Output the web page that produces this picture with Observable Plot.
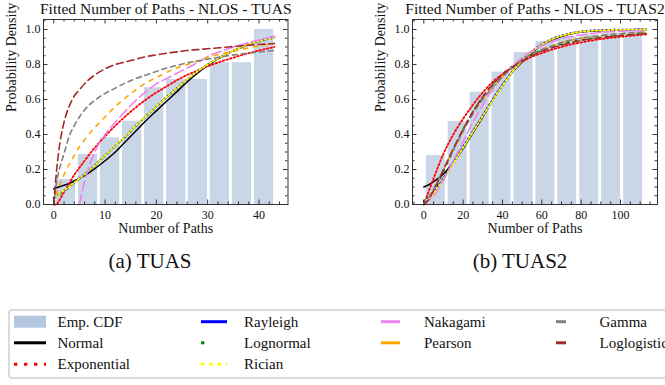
<!DOCTYPE html>
<html>
<head>
<meta charset="utf-8">
<script src="https://cdn.jsdelivr.net/npm/d3@7"></script>
<script src="https://cdn.jsdelivr.net/npm/@observablehq/plot@0.6"></script>
<style>
  html, body { margin: 0; padding: 0; background: #fff; }
  #page { position: relative; width: 665px; height: 385px; overflow: hidden; background: #fff; font-family: "Liberation Serif", "DejaVu Serif", serif; }
  .panel { position: absolute; top: 0; }
  .caption { position: absolute; width: 200px; text-align: center; font-size: 21px; line-height: 21px; top: 251px; color: #111; }
  #legend { position: absolute; left: 0; top: 0; }
</style>
</head>
<body>
<div id="page">
  <div class="panel" id="pa" style="left:0px"></div>
  <div class="panel" id="pb" style="left:365px"></div>
  <div class="caption" style="left:50px">(a) TUAS</div>
  <div class="caption" style="left:420px">(b) TUAS2</div>
  <div id="legend"></div>
</div>
<script>
// ---------------- DATA: panel (a) TUAS ----------------
const tuasTitle = "Fitted Number of Paths - NLOS - TUAS";
const tuasBinStart = [0.5, 4.8, 9.1, 13.4, 17.7, 22.0, 26.2, 30.5, 34.8, 39.1];
const tuasBinEnd   = [4.25, 8.55, 12.85, 17.15, 21.45, 25.75, 29.95, 34.25, 38.55, 42.85];
const tuasEcdf     = [0.143, 0.286, 0.381, 0.476, 0.667, 0.714, 0.714, 0.810, 0.810, 1.0];
const tuasGrid         = [0, 0.5, 1, 2, 3, 4, 5, 6, 8, 10, 12, 14, 16, 18, 20, 22, 24, 26, 28, 30, 34, 38, 43];
const tuasNormal       = [0.09, 0.095, 0.10, 0.11, 0.12, 0.135, 0.15, 0.165, 0.205, 0.25, 0.30, 0.36, 0.42, 0.48, 0.535, 0.59, 0.645, 0.70, 0.75, 0.795, 0.865, 0.915, 0.96];
const tuasExponential  = [0.0, 0.0, 0.02, 0.07, 0.12, 0.17, 0.21, 0.25, 0.325, 0.39, 0.45, 0.505, 0.555, 0.60, 0.64, 0.675, 0.71, 0.74, 0.765, 0.79, 0.83, 0.865, 0.90];
const tuasRayleigh     = [0.04, 0.05, 0.06, 0.08, 0.10, 0.125, 0.15, 0.175, 0.225, 0.28, 0.335, 0.39, 0.45, 0.505, 0.56, 0.615, 0.665, 0.715, 0.76, 0.80, 0.865, 0.915, 0.955];
const tuasLognormal    = [0.035, 0.045, 0.055, 0.075, 0.097, 0.122, 0.147, 0.172, 0.222, 0.277, 0.333, 0.388, 0.448, 0.503, 0.558, 0.613, 0.663, 0.713, 0.758, 0.798, 0.863, 0.913, 0.953];
const tuasRician       = [0.04, 0.05, 0.06, 0.08, 0.10, 0.124, 0.149, 0.174, 0.224, 0.279, 0.335, 0.39, 0.45, 0.505, 0.56, 0.615, 0.665, 0.715, 0.76, 0.80, 0.865, 0.915, 0.955];
const tuasNakagami     = [null, null, null, null, null, null, 0.0, 0.13, 0.30, 0.40, 0.47, 0.535, 0.595, 0.645, 0.69, 0.72, 0.75, 0.78, 0.81, 0.845, 0.89, 0.925, 0.96];
const tuasPearson      = [0.0, 0.06, 0.10, 0.17, 0.23, 0.28, 0.33, 0.37, 0.44, 0.50, 0.56, 0.61, 0.655, 0.695, 0.725, 0.755, 0.78, 0.80, 0.82, 0.84, 0.87, 0.895, 0.92];
const tuasGamma        = [0.0, 0.12, 0.19, 0.29, 0.39, 0.45, 0.50, 0.54, 0.595, 0.635, 0.665, 0.695, 0.72, 0.74, 0.76, 0.78, 0.795, 0.81, 0.82, 0.83, 0.85, 0.865, 0.88];
const tuasLoglogistic  = [0.0, 0.18, 0.31, 0.47, 0.56, 0.62, 0.655, 0.69, 0.74, 0.775, 0.80, 0.815, 0.83, 0.845, 0.855, 0.865, 0.872, 0.88, 0.885, 0.89, 0.90, 0.91, 0.92];
const tuasXTicks = [0, 10, 20, 30, 40];
const tuasXMinor = [-2, 2, 4, 6, 8, 12, 14, 16, 18, 22, 24, 26, 28, 32, 34, 36, 38, 42, 44];

// ---------------- DATA: panel (b) TUAS2 ----------------
const tuas2Title = "Fitted Number of Paths - NLOS - TUAS2";
const tuas2BinStart = [1.3, 12.4, 23.6, 34.7, 45.9, 57.0, 68.1, 79.3, 90.4, 101.6];
const tuas2BinEnd   = [10.9, 22.0, 33.2, 44.3, 55.5, 66.6, 77.7, 88.9, 100.0, 111.2];
const tuas2Ecdf     = [0.28, 0.474, 0.642, 0.756, 0.868, 0.931, 0.958, 0.97, 0.98, 0.99];
const tuas2Grid         = [0, 2, 5, 10, 15, 20, 25, 30, 35, 40, 45, 50, 55, 60, 65, 70, 75, 80, 90, 100, 113];
const tuas2Normal       = [0.10, 0.11, 0.13, 0.175, 0.24, 0.32, 0.41, 0.50, 0.595, 0.68, 0.755, 0.815, 0.868, 0.91, 0.94, 0.96, 0.975, 0.985, 0.993, 0.997, 1.0];
const tuas2Exponential  = [0.0, 0.06, 0.15, 0.29, 0.40, 0.49, 0.57, 0.64, 0.70, 0.745, 0.785, 0.815, 0.845, 0.865, 0.885, 0.90, 0.915, 0.926, 0.945, 0.958, 0.972];
const tuas2Rayleigh     = [0.02, 0.035, 0.07, 0.15, 0.24, 0.33, 0.42, 0.51, 0.60, 0.685, 0.76, 0.825, 0.875, 0.915, 0.945, 0.965, 0.979, 0.988, 0.996, 0.999, 1.0];
const tuas2Lognormal    = [0.0, 0.02, 0.07, 0.19, 0.31, 0.43, 0.53, 0.615, 0.69, 0.745, 0.79, 0.825, 0.855, 0.88, 0.90, 0.917, 0.93, 0.94, 0.955, 0.966, 0.976];
const tuas2Rician       = [0.02, 0.03, 0.065, 0.145, 0.235, 0.325, 0.415, 0.505, 0.595, 0.68, 0.757, 0.822, 0.873, 0.913, 0.943, 0.964, 0.978, 0.987, 0.995, 0.998, 1.0];
const tuas2Nakagami     = [0.0, 0.02, 0.05, 0.14, 0.25, 0.36, 0.47, 0.57, 0.655, 0.73, 0.79, 0.84, 0.877, 0.907, 0.93, 0.948, 0.96, 0.97, 0.983, 0.99, 0.995];
const tuas2Pearson      = [0.0, 0.03, 0.09, 0.2, 0.31, 0.42, 0.52, 0.60, 0.67, 0.73, 0.78, 0.825, 0.86, 0.885, 0.905, 0.925, 0.94, 0.95, 0.965, 0.976, 0.985];
const tuas2Gamma        = [0.0, 0.03, 0.09, 0.2, 0.31, 0.42, 0.52, 0.60, 0.67, 0.73, 0.78, 0.825, 0.86, 0.885, 0.905, 0.925, 0.94, 0.95, 0.965, 0.976, 0.985];
const tuas2Loglogistic  = [0.0, 0.02, 0.08, 0.2, 0.32, 0.43, 0.53, 0.615, 0.685, 0.74, 0.785, 0.82, 0.85, 0.875, 0.895, 0.91, 0.925, 0.937, 0.953, 0.965, 0.975];
const tuas2XTicks = [0, 20, 40, 60, 80, 100];
const tuas2XMinor = [-5, 5, 10, 15, 25, 30, 35, 45, 50, 55, 65, 70, 75, 85, 90, 95, 105, 110, 115];

// ---------------- shared ticks / labels ----------------
const yTicks = [0, 0.2, 0.4, 0.6, 0.8, 1.0];
const yMinor = [0.05, 0.1, 0.15, 0.25, 0.3, 0.35, 0.45, 0.5, 0.55, 0.65, 0.7, 0.75, 0.85, 0.9, 0.95, 1.05];
const xLabel = "Number of Paths";
const yLabel = "Probability Density";
const seriesNames = ["Normal", "Exponential", "Rayleigh", "Lognormal", "Rician", "Nakagami", "Pearson", "Gamma", "Loglogistic"];
const legendNames = ["Emp. CDF", ...seriesNames];

// ---------------- styles ----------------
const FONT = '"Liberation Serif", "DejaVu Serif", serif';
const styles = {
  Normal:      {color: "#000000", width: 1.5, dash: null, offset: 0},
  Exponential: {color: "#ff0000", width: 1.8, dash: "1.6,2.2", offset: 0},
  Rayleigh:    {color: "#0000ff", width: 1.8, dash: "2,2", offset: 0},
  Lognormal:   {color: "#008000", width: 1.8, dash: "1.8,6", offset: 0},
  Rician:      {color: "#ffff00", width: 1.8, dash: "2,2", offset: 2},
  Nakagami:    {color: "#ee82ee", width: 1.6, dash: "10,4", offset: 0},
  Pearson:     {color: "#ffa500", width: 1.6, dash: "4,6", offset: 0},
  Gamma:       {color: "#808080", width: 1.6, dash: "5,4", offset: 0},
  Loglogistic: {color: "#a52a2a", width: 1.6, dash: "7,4", offset: 0}
};
const drawOrder = ["Lognormal", "Normal", "Exponential", "Rayleigh", "Rician", "Nakagami", "Pearson", "Gamma", "Loglogistic"];
const barFill = "#b0c4de";

function panel(cfg) {
  const H = 240, mt = 19, mb = 36;
  const fh = H - mt - mb;
  const fw = cfg.width - cfg.ml - cfg.mr;
  const bars = cfg.ecdf.map((v, i) => ({x1: cfg.binStart[i], x2: cfg.binEnd[i], y: v}));
  const lines = drawOrder.map(name => {
    const s = styles[name];
    const vals = cfg.series[name];
    const pts = cfg.grid.map((x, i) => ({x, y: vals[i]})).filter(d => d.y != null);
    return Plot.line(pts, {x: "x", y: "y", stroke: s.color, strokeWidth: s.width,
      strokeDasharray: s.dash || undefined, strokeDashoffset: s.offset, curve: "monotone-x"});
  });
  const tk = "#333";
  return Plot.plot({
    width: cfg.width, height: H,
    marginLeft: cfg.ml, marginRight: cfg.mr, marginTop: mt, marginBottom: mb,
    x: {domain: cfg.xDomain},
    y: {domain: [0, 1.057]},
    style: {fontFamily: FONT, background: "transparent", overflow: "visible", color: "#111"},
    marks: [
      Plot.rectY(bars, {x1: "x1", x2: "x2", y: "y", fill: barFill, fillOpacity: 0.7}),
      ...lines,
      Plot.frame({stroke: tk, strokeWidth: 1}),
      Plot.tickX(cfg.xTicks, {x: d => d, insetBottom: fh - 4.5, stroke: tk}),
      Plot.tickX(cfg.xTicks, {x: d => d, insetTop: fh - 4.5, stroke: tk}),
      Plot.tickX(cfg.xMinor, {x: d => d, insetBottom: fh - 2.5, stroke: tk}),
      Plot.tickX(cfg.xMinor, {x: d => d, insetTop: fh - 2.5, stroke: tk}),
      Plot.tickY(yTicks, {y: d => d, insetRight: fw - 4.5, stroke: tk}),
      Plot.tickY(yTicks, {y: d => d, insetLeft: fw - 4.5, stroke: tk}),
      Plot.tickY(yMinor, {y: d => d, insetRight: fw - 2.5, stroke: tk}),
      Plot.tickY(yMinor, {y: d => d, insetLeft: fw - 2.5, stroke: tk}),
      Plot.axisX({ticks: cfg.xTicks, tickSize: 0, tickPadding: 6, fontSize: 12, tickFormat: d => String(d), label: null}),
      Plot.axisY({ticks: yTicks, tickSize: 0, tickPadding: 3, fontSize: 12, tickFormat: d => d.toFixed(1), label: null}),
      Plot.text([cfg.title], {text: d => d, frameAnchor: "top", lineAnchor: "middle", dy: -10, fontSize: 15.5}),
      Plot.text([xLabel], {text: d => d, frameAnchor: "bottom", lineAnchor: "middle", dy: 24, fontSize: 14}),
      Plot.text([yLabel], {text: d => d, frameAnchor: "left", lineAnchor: "middle", dx: -32, rotate: -90, fontSize: 14})
    ]
  });
}

document.getElementById("pa").appendChild(panel({
  width: 330, ml: 43, mr: 42.5, xDomain: [-2, 45.65], title: tuasTitle,
  xTicks: tuasXTicks, xMinor: tuasXMinor,
  binStart: tuasBinStart, binEnd: tuasBinEnd, ecdf: tuasEcdf, grid: tuasGrid,
  series: {Normal: tuasNormal, Exponential: tuasExponential, Rayleigh: tuasRayleigh, Lognormal: tuasLognormal,
           Rician: tuasRician, Nakagami: tuasNakagami, Pearson: tuasPearson, Gamma: tuasGamma, Loglogistic: tuasLoglogistic}
}));

document.getElementById("pb").appendChild(panel({
  width: 300, ml: 47, mr: 8, xDomain: [-5.74, 118.8], title: tuas2Title,
  xTicks: tuas2XTicks, xMinor: tuas2XMinor,
  binStart: tuas2BinStart, binEnd: tuas2BinEnd, ecdf: tuas2Ecdf, grid: tuas2Grid,
  series: {Normal: tuas2Normal, Exponential: tuas2Exponential, Rayleigh: tuas2Rayleigh, Lognormal: tuas2Lognormal,
           Rician: tuas2Rician, Nakagami: tuas2Nakagami, Pearson: tuas2Pearson, Gamma: tuas2Gamma, Loglogistic: tuas2Loglogistic}
}));

// ---------------- legend ----------------
const legendLayout = {
  cols: [{sw0: 14, sw1: 46, tx: 57.5}, {sw0: 201, sw1: 227, tx: 244}, {sw0: 381, sw1: 400, tx: 424}, {sw0: 556, sw1: 566, tx: 599.5}],
  rows: [321.7, 342.8, 364.3]
};
const legendSlots = [[0,0],[0,1],[0,2],[1,0],[1,1],[1,2],[2,0],[2,1],[3,0],[3,1]];
const legendSwatch = {
  "Emp. CDF": {type: "rect"},
  Normal: {type: "line", dash: null},
  Exponential: {type: "line", dash: "3.3,6.7"},
  Rayleigh: {type: "line", dash: null},
  Lognormal: {type: "line", dash: "3.3,40"},
  Rician: {type: "line", dash: "3.3,5"},
  Nakagami: {type: "line", dash: null},
  Pearson: {type: "line", dash: null},
  Gamma: {type: "line", dash: null},
  Loglogistic: {type: "line", dash: null}
};
const lsvg = d3.select("#legend").append("svg").attr("width", 665).attr("height", 385)
  .style("font-family", FONT);
lsvg.append("rect").attr("x", 9).attr("y", 310).attr("width", 680).attr("height", 68).attr("rx", 3)
  .attr("fill", "#fff").attr("stroke", "#cfcfcf").attr("stroke-width", 1.5);
legendNames.forEach((name, i) => {
  const [c, r] = legendSlots[i];
  const col = legendLayout.cols[c], y = legendLayout.rows[r];
  const sw = legendSwatch[name];
  if (sw.type === "rect") {
    lsvg.append("rect").attr("x", col.sw0).attr("y", y - 6).attr("width", col.sw1 - col.sw0).attr("height", 12)
      .attr("fill", barFill).attr("fill-opacity", 0.95);
  } else {
    lsvg.append("line").attr("x1", col.sw0).attr("x2", col.sw1).attr("y1", y).attr("y2", y)
      .attr("stroke", styles[name].color).attr("stroke-width", 3)
      .attr("stroke-dasharray", sw.dash);
  }
  lsvg.append("text").attr("x", col.tx).attr("y", y).attr("dy", "0.33em").attr("font-size", 15)
    .attr("fill", "#111").text(name);
});
</script>
</body>
</html>
